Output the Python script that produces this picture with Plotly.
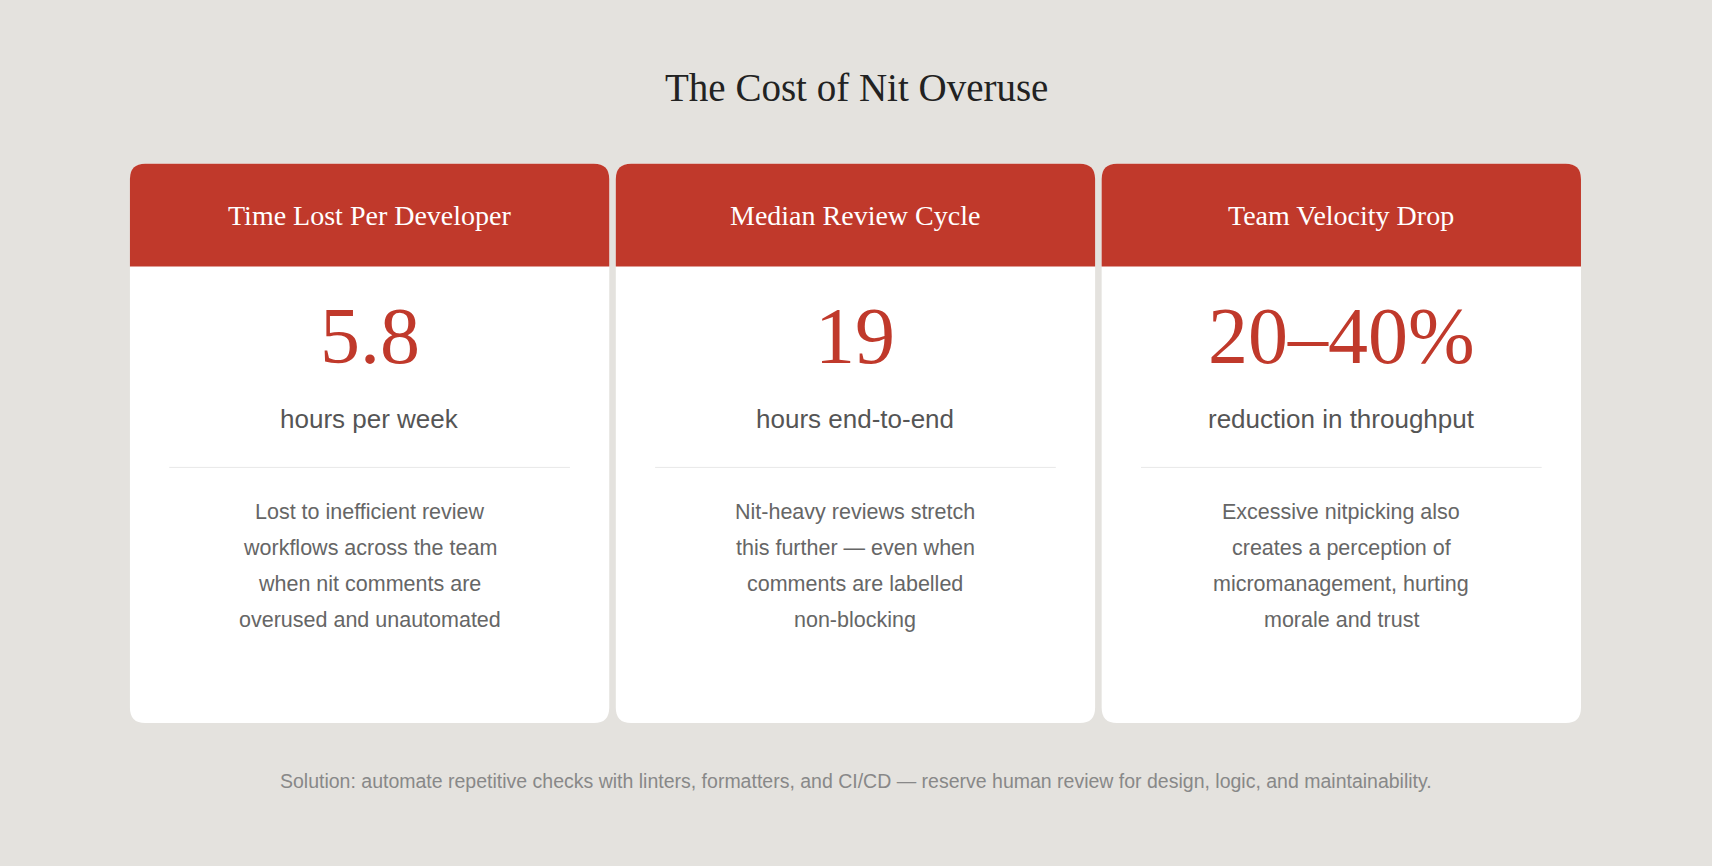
import plotly.graph_objects as go

titles = ["Time Lost Per Developer", "Median Review Cycle", "Team Velocity Drop"]
values = ["5.8", "19", "20–40%"]
units = ["hours per week", "hours end-to-end", "reduction in throughput"]
descs = [
    ["Lost to inefficient review", "workflows across the team", "when nit comments are", "overused and unautomated"],
    ["Nit-heavy reviews stretch", "this further — even when", "comments are labelled", "non-blocking"],
    ["Excessive nitpicking also", "creates a perception of", "micromanagement, hurting", "morale and trust"],
]
chart_title = "The Cost of Nit Overuse"
footer = "Solution: automate repetitive checks with linters, formatters, and CI/CD — reserve human review for design, logic, and maintainability."

W, H = 1568, 793
RED = "#c0392b"
SERIF = "Liberation Serif, DejaVu Serif, serif"
SANS = "Liberation Sans, Arial, sans-serif"

def rpath(x0, y0, x1, y1, r, top_only=False):
    if top_only:
        return (f"M{x0},{y1} L{x0},{y0+r} Q{x0},{y0} {x0+r},{y0} L{x1-r},{y0} "
                f"Q{x1},{y0} {x1},{y0+r} L{x1},{y1} Z")
    return (f"M{x0+r},{y0} L{x1-r},{y0} Q{x1},{y0} {x1},{y0+r} L{x1},{y1-r} "
            f"Q{x1},{y1} {x1-r},{y1} L{x0+r},{y1} Q{x0},{y1} {x0},{y1-r} "
            f"L{x0},{y0+r} Q{x0},{y0} {x0+r},{y0} Z")

fig = go.Figure()
shapes, anns = [], []
lefts = [119, 564, 1009]
cw = 439
for i, x0 in enumerate(lefts):
    x1 = x0 + cw
    cx = (x0 + x1) / 2
    shapes.append(dict(type="path", path=rpath(x0, 150, x1, 662, 14), fillcolor="white", line_width=0, layer="below"))
    shapes.append(dict(type="path", path=rpath(x0, 150, x1, 244, 14, True), fillcolor=RED, line_width=0, layer="below"))
    shapes.append(dict(type="line", x0=x0 + 36, x1=x1 - 36, y0=428, y1=428, line=dict(color="#e8e8e8", width=1)))
    anns.append(dict(x=cx, y=197, text=titles[i], font=dict(family=SERIF, size=28, color="white")))
    anns.append(dict(x=cx, y=308, text=values[i], font=dict(family=SERIF, size=80, color=RED)))
    anns.append(dict(x=cx, y=384, text=units[i], font=dict(family=SANS, size=26, color="#555555")))
    for j, line in enumerate(descs[i]):
        anns.append(dict(x=cx, y=469 + 33 * j, text=line, font=dict(family=SANS, size=21.5, color="#666666")))
anns.append(dict(x=W / 2, y=80, text=chart_title, font=dict(family=SERIF, size=39, color="#222222")))
anns.append(dict(x=W / 2, y=715, text=footer, font=dict(family=SANS, size=19.5, color="#888888")))
for a in anns:
    a.update(xref="x", yref="y", showarrow=False, xanchor="center", yanchor="middle")

fig.update_layout(
    width=1712, height=866, margin=dict(l=0, r=0, t=0, b=0),
    paper_bgcolor="#e4e2de", plot_bgcolor="#e4e2de",
    xaxis=dict(range=[0, W], visible=False, fixedrange=True),
    yaxis=dict(range=[H, 0], visible=False, fixedrange=True),
    shapes=shapes, annotations=anns, showlegend=False,
)
fig.write_html("out.html", config={"displayModeBar": False},
               post_script="document.body.style.margin='0';document.body.style.background='#e4e2de';")
